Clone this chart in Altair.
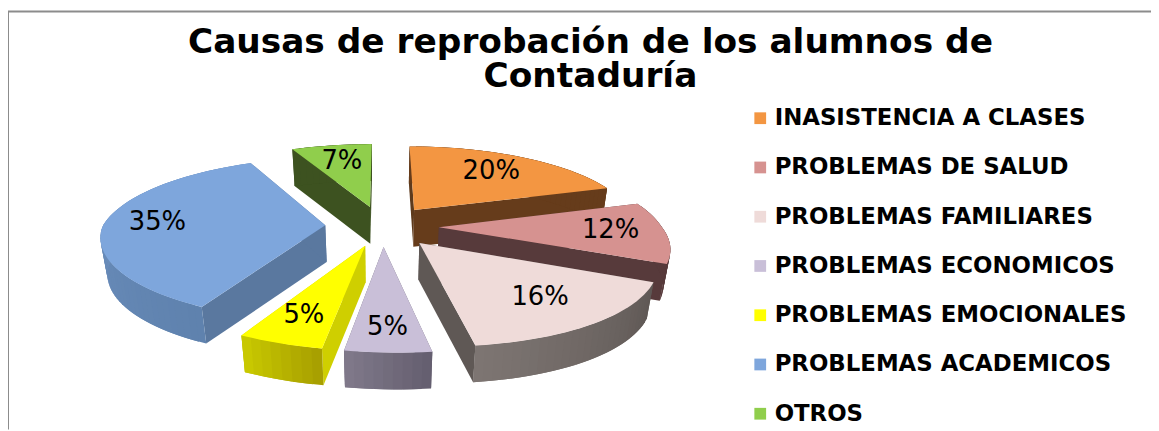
import math
import altair as alt

names = ["INASISTENCIA A CLASES", "PROBLEMAS DE SALUD", "PROBLEMAS FAMILIARES",
         "PROBLEMAS ECONOMICOS", "PROBLEMAS EMOCIONALES", "PROBLEMAS ACADEMICOS", "OTROS"]
values = [20, 12, 16, 5, 5, 35, 7]
top_colors = ["#F39642", "#D69290", "#EFDBD9", "#C9BFD8", "#FFFF00", "#7EA6DC", "#90CE4C"]
edge_start = ["#5E3A1C", "#573A3B", "#5F5855", "#6A6475", "#CFCF00", "#5A789F", "#3D5220"]
edge_end = ["#663C1B", "#573A3B", "#5F5855", "#6A6475", "#CFCF00", "#5A789F", "#3D5220"]
outer_from = ["#663C1B", "#573A3B", "#5F5855", "#655F70", "#A8A000", "#5F82AE", "#3D5220"]
outer_to = ["#663C1B", "#573A3B", "#7D7572", "#7F7889", "#C8C800", "#7497C6", "#3D5220"]
title_lines = ["Causas de reprobación de los alumnos de", "Contaduría"]

SCALE = 224
TILT = 80 / SCALE
PERSP = 0.17
SHEAR = 14 / SCALE
EXPLODE = 0.255
DEPTH = 37 / SCALE
LABEL_RADIUS = [0.69, 0.76, 0.72, 0.8, 0.76, 0.76, 0.7]


def project(u, v):
    s = 1 / (1 + PERSP * v)
    return [u * s + SHEAR * max(0.0, -v), v * s * TILT]


def bottom(p):
    return [p[0] * 0.975, p[1] - DEPTH]


def mix(a, b, t):
    ca = [int(a[i:i + 2], 16) for i in (1, 3, 5)]
    cb = [int(b[i:i + 2], 16) for i in (1, 3, 5)]
    return "#%02x%02x%02x" % tuple(round(x + (y - x) * t) for x, y in zip(ca, cb))


def feature(ring, color, name=None):
    return {"type": "Feature",
            "geometry": {"type": "Polygon", "coordinates": [ring + [ring[0]]]},
            "properties": {"c": color, "name": name}}


walls, tops, labels = [], [], []
total = sum(values)
cum = 0
slices = []
for i, val in enumerate(values):
    a0 = cum / total * 2 * math.pi
    cum += val
    a1 = cum / total * 2 * math.pi
    mid = (a0 + a1) / 2
    eu, ev = EXPLODE * math.sin(mid), EXPLODE * math.cos(mid)
    n = max(2, int((a1 - a0) / math.radians(2)))
    angs = [a0 + (a1 - a0) * k / n for k in range(n + 1)]
    arc = [project(eu + math.sin(t), ev + math.cos(t)) for t in angs]
    apex = project(eu, ev)
    slices.append((i, apex, arc))
    r = LABEL_RADIUS[i]
    lp = project(eu + r * math.sin(mid), ev + r * math.cos(mid))
    labels.append({"lon": lp[0], "lat": lp[1], "t": f"{val}%"})

for i in [6, 0, 5, 1, 2, 3, 4]:
    _, apex, arc = slices[i]
    walls.append(feature([apex, arc[0], bottom(arc[0]), bottom(apex)], edge_start[i]))
    walls.append(feature([apex, arc[-1], bottom(arc[-1]), bottom(apex)], edge_end[i]))
    # each strip reaches over the next one, so the later strip hides the seam
    m = len(arc) - 1
    for k in range(m):
        e = min(k + 2, m)
        walls.append(feature([arc[k], arc[e], bottom(arc[e]), bottom(arc[k])],
                             mix(outer_from[i], outer_to[i], k / (m - 1 or 1))))
    tops.append(feature([apex] + arc, top_colors[i], names[i]))


def geo(features):
    return alt.InlineData(values={"type": "FeatureCollection", "features": features},
                          format=alt.DataFormat(property="features", type="json"))


proj = dict(type="identity", reflectY=True, scale=SCALE, translate=[376.5, 218])

wall_layer = alt.Chart(geo(walls)).mark_geoshape(strokeWidth=0).encode(
    fill=alt.Fill("properties.c:N", scale=None),
).project(**proj)

top_layer = alt.Chart(geo(tops)).mark_geoshape(strokeWidth=0).encode(
    color=alt.Color("properties.name:N", sort=names,
                    scale=alt.Scale(domain=names, range=top_colors),
                    legend=alt.Legend(title=None, orient="none", legendX=746, legendY=98,
                                      symbolType="square", symbolSize=140, symbolStrokeWidth=0,
                                      labelFont="DejaVu Sans", labelFontWeight="bold",
                                      labelFontSize=23, labelColor="#000000", labelLimit=500,
                                      rowPadding=25.6, labelOffset=3, symbolOffset=0)),
).project(**proj)

label_layer = alt.Chart(alt.Data(values=labels)).mark_text(
    font="DejaVu Sans", fontSize=26, color="#000000", dy=-1
).encode(longitude="lon:Q", latitude="lat:Q", text="t:N").project(**proj)

border_left = alt.Chart(alt.Data(values=[{"a": 1}])).mark_rule(color="#8C8C8C", strokeWidth=2).encode(
    x=alt.value(0), y=alt.value(2), y2=alt.value(423))
border_top = alt.Chart(alt.Data(values=[{"a": 1}])).mark_rule(color="#8C8C8C", strokeWidth=2).encode(
    x=alt.value(0), x2=alt.value(1151), y=alt.value(2))

chart = alt.layer(wall_layer, top_layer, label_layer, border_left, border_top).properties(
    width=1151, height=423,
    autosize=alt.AutoSizeParams(type="none"),
    padding=0,
    title=alt.TitleParams(text=title_lines, font="DejaVu Sans", fontWeight="bold", fontSize=34.6,
                          color="#000000", anchor="middle", frame="group", dx=11, dy=90,
                          lineHeight=35),
).configure_view(stroke=None)

chart.save("out.html", embed_options={"renderer": "svg", "actions": False})
